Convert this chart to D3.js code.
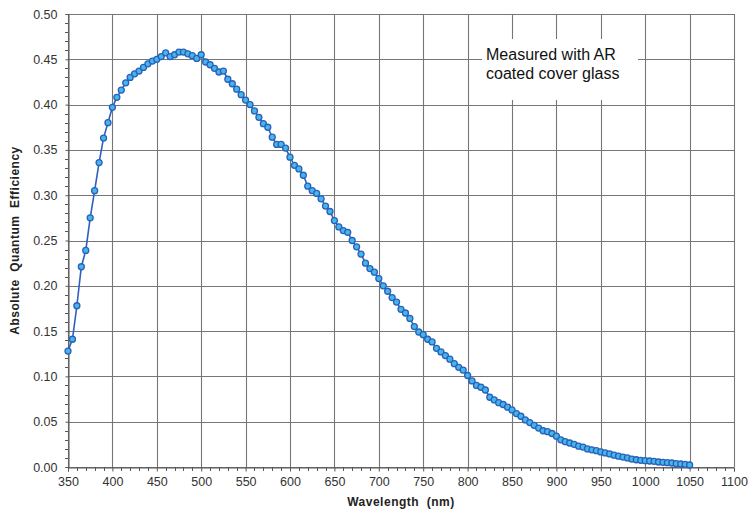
<!DOCTYPE html>
<html>
<head>
<meta charset="utf-8">
<script src="https://cdn.jsdelivr.net/npm/d3@7"></script>
<style>
  body { margin: 0; background: #fff; }
  svg text { font-family: "Liberation Sans", Arial, sans-serif; }
</style>
</head>
<body>
<svg id="chart" width="749" height="514"></svg>
<script>
// wavelength (nm) of each measured point
var wavelengths = [350, 355, 360, 365, 370, 375, 380, 385, 390, 395,
  400, 405, 410, 415, 420, 425, 430, 435, 440, 445,
  450, 455, 460, 465, 470, 475, 480, 485, 490, 495,
  500, 505, 510, 515, 520, 525, 530, 535, 540, 545,
  550, 555, 560, 565, 570, 575, 580, 585, 590, 595,
  600, 605, 610, 615, 620, 625, 630, 635, 640, 645,
  650, 655, 660, 665, 670, 675, 680, 685, 690, 695,
  700, 705, 710, 715, 720, 725, 730, 735, 740, 745,
  750, 755, 760, 765, 770, 775, 780, 785, 790, 795,
  800, 805, 810, 815, 820, 825, 830, 835, 840, 845,
  850, 855, 860, 865, 870, 875, 880, 885, 890, 895,
  900, 905, 910, 915, 920, 925, 930, 935, 940, 945,
  950, 955, 960, 965, 970, 975, 980, 985, 990, 995,
  1000, 1005, 1010, 1015, 1020, 1025, 1030, 1035, 1040, 1045,
  1050];

// absolute quantum efficiency
var efficiency = [0.128, 0.141, 0.178, 0.221, 0.239, 0.275, 0.305, 0.336, 0.363, 0.380,
  0.397, 0.408, 0.416, 0.424, 0.430, 0.434, 0.437, 0.441, 0.445, 0.448,
  0.450, 0.453, 0.457, 0.453, 0.455, 0.458, 0.458, 0.456, 0.454, 0.451,
  0.455, 0.447, 0.444, 0.440, 0.436, 0.437, 0.428, 0.423, 0.417, 0.411,
  0.405, 0.400, 0.393, 0.386, 0.379, 0.375, 0.364, 0.356, 0.356, 0.352,
  0.342, 0.333, 0.329, 0.322, 0.310, 0.305, 0.302, 0.296, 0.288, 0.282,
  0.272, 0.265, 0.261, 0.259, 0.250, 0.243, 0.235, 0.225, 0.219, 0.215,
  0.208, 0.200, 0.194, 0.187, 0.182, 0.174, 0.170, 0.164, 0.155, 0.149,
  0.146, 0.141, 0.138, 0.131, 0.127, 0.123, 0.119, 0.114, 0.110, 0.107,
  0.101, 0.095, 0.090, 0.088, 0.085, 0.077, 0.074, 0.071, 0.069, 0.066,
  0.063, 0.059, 0.056, 0.052, 0.049, 0.046, 0.043, 0.040, 0.039, 0.037,
  0.034, 0.030, 0.028, 0.0265, 0.025, 0.023, 0.022, 0.020, 0.019, 0.018,
  0.0166, 0.0155, 0.0144, 0.013, 0.012, 0.011, 0.010, 0.0088, 0.008, 0.0074,
  0.007, 0.0066, 0.0063, 0.0055, 0.0052, 0.0048, 0.0044, 0.0037, 0.0033, 0.003,
  0.0022];

var xTicks = [350, 400, 450, 500, 550, 600, 650, 700, 750, 800, 850, 900, 950, 1000, 1050, 1100];
var yTicks = [0.00, 0.05, 0.10, 0.15, 0.20, 0.25, 0.30, 0.35, 0.40, 0.45, 0.50];
var xMinor = [];   // every 10 nm
xTicks.slice(0, -1).forEach(function(t) { [10, 20, 30, 40].forEach(function(k) { xMinor.push(t + k); }); });
var yMinor = [];   // every 0.01
yTicks.slice(0, -1).forEach(function(t) { [0.01, 0.02, 0.03, 0.04].forEach(function(k) { yMinor.push(t + k); }); });

var noteLines = ["Measured with AR", "coated cover glass"];

var data = wavelengths.map(function(w, i) { return {nm: w, qe: efficiency[i]}; });

var svg = d3.select("#chart"),
    margin = {top: 14, right: 15, bottom: 47, left: 68},
    width = +svg.attr("width") - margin.left - margin.right,
    height = +svg.attr("height") - margin.top - margin.bottom;

var gridColor = "#767676";

var xScale = d3.scaleLinear().domain([350, 1100]).range([margin.left, margin.left + width]);
var yScale = d3.scaleLinear().domain([0, 0.5]).range([margin.top + height, margin.top]);

// grid lines
var grid = svg.append("g");
grid.selectAll("line.vx").data(xTicks).enter().append("line")
    .attr("x1", function(d) { return Math.round(xScale(d)) + 0.5; })
    .attr("x2", function(d) { return Math.round(xScale(d)) + 0.5; })
    .attr("y1", yScale(0.5)).attr("y2", yScale(0))
    .attr("stroke", gridColor).attr("stroke-width", 1.1);
grid.selectAll("line.hy").data(yTicks).enter().append("line")
    .attr("y1", function(d) { return Math.round(yScale(d)) + 0.5; })
    .attr("y2", function(d) { return Math.round(yScale(d)) + 0.5; })
    .attr("x1", xScale(350)).attr("x2", xScale(1100))
    .attr("stroke", gridColor).attr("stroke-width", 1.1);

// note box covers the grid
svg.append("rect")
    .attr("x", 482).attr("y", 39).attr("width", 156).attr("height", 61)
    .attr("fill", "#fff");
svg.append("text")
    .attr("x", 486).attr("y", 60)
    .attr("font-size", "16px").attr("fill", "#111")
    .selectAll("tspan").data(noteLines).enter().append("tspan")
    .attr("x", 486).attr("dy", function(d, i) { return i ? 19 : 0; })
    .text(function(d) { return d; });

// axes
var xAxis = d3.axisBottom(xScale).tickValues(xTicks).tickSize(4).tickPadding(6).tickFormat(d3.format("d"));
var yAxis = d3.axisLeft(yScale).tickValues(yTicks).tickSize(3).tickPadding(8).tickFormat(d3.format(".2f"));

var gx = svg.append("g").attr("transform", "translate(0," + (Math.round(yScale(0)) + 0.5) + ")").call(xAxis);
var gy = svg.append("g").attr("transform", "translate(" + (margin.left + 0.5) + ",0)").call(yAxis);
[gx, gy].forEach(function(g) {
    g.select(".domain").attr("stroke", "#555");
    g.selectAll(".tick line").attr("stroke", "#555");
    g.selectAll("text").attr("font-size", "12.5px").attr("fill", "#333").attr("font-family", "Liberation Sans, Arial, sans-serif");
});

// minor ticks
svg.append("g").selectAll("line").data(xMinor).enter().append("line")
    .attr("x1", function(d) { return Math.round(xScale(d)) + 0.5; })
    .attr("x2", function(d) { return Math.round(xScale(d)) + 0.5; })
    .attr("y1", yScale(0)).attr("y2", yScale(0) + 4)
    .attr("stroke", "#555");
svg.append("g").selectAll("line").data(yMinor).enter().append("line")
    .attr("y1", function(d) { return Math.round(yScale(d)) + 0.5; })
    .attr("y2", function(d) { return Math.round(yScale(d)) + 0.5; })
    .attr("x1", margin.left - 3).attr("x2", margin.left)
    .attr("stroke", "#555");

// axis titles
svg.append("text")
    .attr("x", xScale(725)).attr("y", 506)
    .attr("text-anchor", "middle").attr("font-size", "12px").attr("font-weight", "bold")
    .attr("letter-spacing", "0.5px")
    .attr("fill", "#222").attr("xml:space", "preserve")
    .text("Wavelength  (nm)");
svg.append("text")
    .attr("transform", "translate(19," + yScale(0.25) + ") rotate(-90)")
    .attr("text-anchor", "middle").attr("font-size", "12px").attr("font-weight", "bold")
    .attr("letter-spacing", "0.5px")
    .attr("fill", "#222").attr("xml:space", "preserve")
    .text("Absolute  Quantum  Efficiency");

// the curve and its markers
var line = d3.line()
    .x(function(d) { return xScale(d.nm); })
    .y(function(d) { return yScale(d.qe); });

svg.append("path").datum(data)
    .attr("d", line)
    .attr("fill", "none").attr("stroke", "#2f5fbf").attr("stroke-width", 1.6);

svg.append("g").selectAll("circle").data(data).enter().append("circle")
    .attr("cx", function(d) { return xScale(d.nm); })
    .attr("cy", function(d) { return yScale(d.qe); })
    .attr("r", 3)
    .attr("fill", "#45b6e8").attr("stroke", "#2a60bb").attr("stroke-width", 1.3);
</script>
</body>
</html>
